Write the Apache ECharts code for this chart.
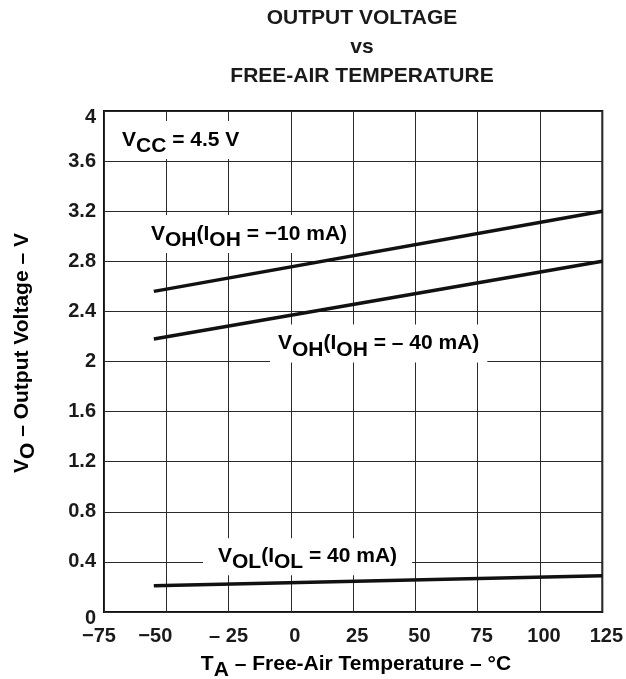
<!DOCTYPE html>
<html>
<head>
<meta charset="utf-8">
<script src="https://cdn.jsdelivr.net/npm/echarts@6/dist/echarts.min.js"></script>
<style>
html,body{margin:0;padding:0;background:#fff;}
#chart{width:626px;height:679px;}
</style>
</head>
<body>
<div id="chart"></div>
<script>
// ---- data ----
const temperatures = [-55, 125];
const vohMinus10mA = [2.56, 3.20];
const vohMinus40mA = [2.18, 2.80];
const volPlus40mA = [0.21, 0.29];
const xTickLabels = ['\u221275', '\u221250', '\u2013 25', '0', '25', '50', '75', '100', '125'];
const yTickLabels = ['0', '0.4', '0.8', '1.2', '1.6', '2', '2.4', '2.8', '3.2', '3.6', '4'];

// ---- styles (not data) ----
const FONT = 'Liberation Sans, Arial, Helvetica, sans-serif';
const xLabelStyle = ['l5', 'l11', 'c', 'r', 'r', 'r', 'r', 'r', 'r'];
const yLabelStyle = ['dn', 'c', 'c', 'c', 'c', 'c', 'c', 'c', 'c', 'c', 'dn'];

function pairs(xs, ys) { return xs.map((x, i) => [x, ys[i]]); }

function labelRich(size) {
  return {
    b: { fontFamily: FONT, fontWeight: 'bold', fontSize: size, color: '#1a1a1a' },
    s: { fontFamily: FONT, fontWeight: 'bold', fontSize: size, color: '#1a1a1a', padding: [13, 0, 0, 0] }
  };
}

const chart = echarts.init(document.getElementById('chart'), null, { renderer: 'canvas' });

const lineSeries = (name, ys) => ({
  name: name,
  type: 'line',
  data: pairs(temperatures, ys),
  symbol: 'none',
  lineStyle: { color: '#111', width: 3.5 },
  z: 20,
  silent: true
});

function note(x, y, text, pad) {
  return {
    type: 'text', x: x, y: y, z: 50,
    style: {
      text: text, rich: labelRich(21), align: 'left', verticalAlign: 'middle',
      backgroundColor: '#fff', padding: pad
    }
  };
}

chart.setOption({
  animation: false,
  backgroundColor: '#fff',
  grid: { left: 104, top: 111, width: 502, height: 501, show: true, borderColor: '#111', borderWidth: 2, backgroundColor: 'transparent' },
  xAxis: {
    type: 'value', min: -75, max: 125, interval: 25,
    axisLine: { show: false }, axisTick: { show: false },
    splitLine: { show: true, lineStyle: { color: '#2a2a2a', width: 1 } },
    axisLabel: {
      margin: 14,
      formatter: function (v, i) {
        const idx = Math.round((v + 75) / 25);
        return '{' + xLabelStyle[idx] + '|' + xTickLabels[idx] + '}';
      },
      rich: {
        c: { fontFamily: FONT, fontWeight: 'bold', fontSize: 20, color: '#1a1a1a' },
        r: { fontFamily: FONT, fontWeight: 'bold', fontSize: 20, color: '#1a1a1a', padding: [0, 0, 0, 8] },
        l5: { fontFamily: FONT, fontWeight: 'bold', fontSize: 20, color: '#1a1a1a', padding: [0, 10, 0, 0] },
        l11: { fontFamily: FONT, fontWeight: 'bold', fontSize: 20, color: '#1a1a1a', padding: [0, 22, 0, 0] }
      }
    }
  },
  yAxis: {
    type: 'value', min: 0, max: 4, interval: 0.4,
    axisLine: { show: false }, axisTick: { show: false },
    splitLine: { show: true, lineStyle: { color: '#2a2a2a', width: 1 } },
    axisLabel: {
      margin: 8,
      formatter: function (v) {
        const idx = Math.round(v / 0.4);
        return '{' + yLabelStyle[idx] + '|' + yTickLabels[idx] + '}';
      },
      rich: {
        c: { fontFamily: FONT, fontWeight: 'bold', fontSize: 20, color: '#1a1a1a' },
        dn: { fontFamily: FONT, fontWeight: 'bold', fontSize: 20, color: '#1a1a1a', padding: [13, 0, 0, 0] }
      }
    }
  },
  series: [
    lineSeries('VOH(IOH = -10 mA)', vohMinus10mA),
    lineSeries('VOH(IOH = -40 mA)', vohMinus40mA),
    lineSeries('VOL(IOL = 40 mA)', volPlus40mA)
  ],
  graphic: [
    {
      type: 'text', x: 362, y: 4, z: 50,
      style: {
        text: 'OUTPUT VOLTAGE\nvs\nFREE-AIR TEMPERATURE',
        fontFamily: FONT, fontWeight: 'bold', fontSize: 21, lineHeight: 29,
        fill: '#1a1a1a', align: 'center', verticalAlign: 'top'
      }
    },
    {
      type: 'text', x: 356, y: 664, z: 50,
      style: { text: '{b|T}{s|A}{b| \u2013 Free-Air Temperature \u2013 \u00B0C}', rich: labelRich(21), align: 'center', verticalAlign: 'middle' }
    },
    {
      type: 'text', x: 22, y: 353, z: 50, rotation: Math.PI / 2,
      style: { text: '{b|V}{s|O}{b| \u2013 Output Voltage \u2013 V}', rich: labelRich(21), align: 'center', verticalAlign: 'middle' }
    },
    note(116, 140, '{b|V}{s|CC}{b| = 4.5 V}', [2, 6, 2, 6]),
    note(145, 234, '{b|V}{s|OH}{b|(I}{s|OH}{b| = \u221210 mA)}', [2, 6, 2, 6]),
    note(270, 343.5, '{b|V}{s|OH}{b|(I}{s|OH}{b| = \u2013 40 mA)}', [2, 8, 2, 8]),
    note(203, 556.7, '{b|V}{s|OL}{b|(I}{s|OL}{b| = 40 mA)}', [1, 15, 2, 15])
  ]
});
</script>
</body>
</html>
